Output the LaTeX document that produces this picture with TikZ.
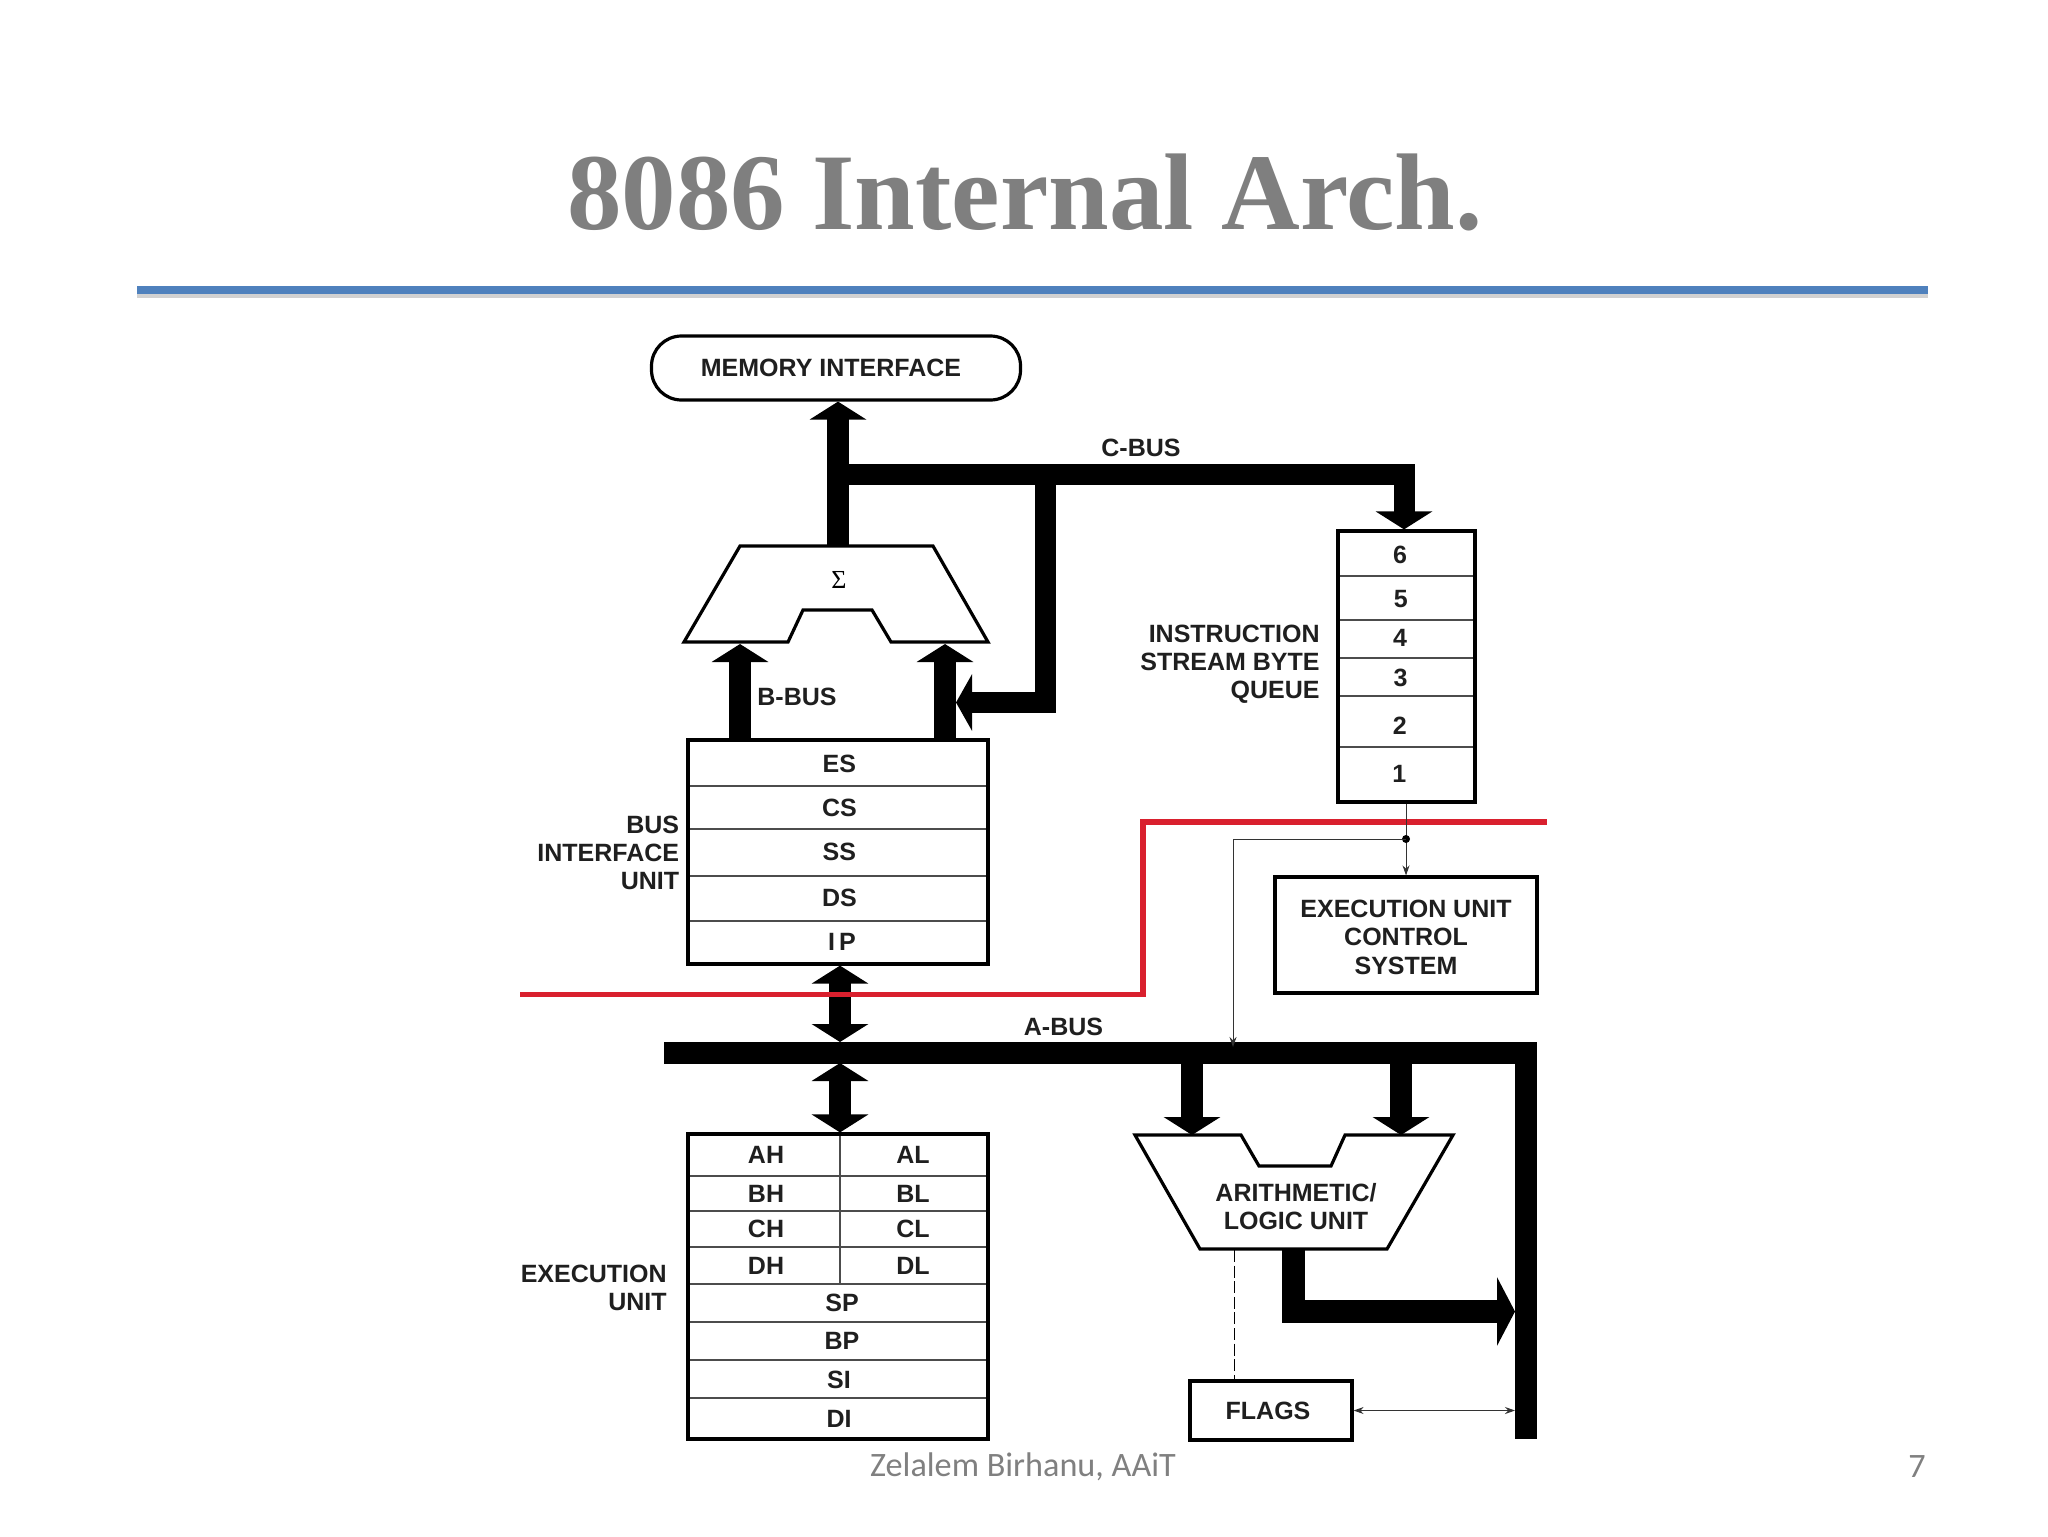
\documentclass[tikz,border=0pt]{standalone}
\usepackage{fontspec}
\setmainfont{Liberation Sans}
\newfontfamily\titlefont{Liberation Serif}
\newfontfamily\footfont{Carlito}
\usetikzlibrary{arrows.meta,calc}
\definecolor{titlegray}{HTML}{7F7F7F}
\definecolor{footgray}{HTML}{808080}
\definecolor{rulecolor}{HTML}{4F81BD}
\definecolor{redline}{HTML}{D9202E}
\tikzset{
  lab/.style={font=\fontsize{12.5}{14}\selectfont\bfseries, inner sep=0pt, text=black!88},
  rlab/.style={lab, align=right, anchor=east},
  clab/.style={lab, align=center},
  outerbox/.style={draw=black, line width=1.6pt, inner sep=0pt},
  rowline/.style={draw=black!70, line width=0.7pt},
  bus/.style={line width=#1, draw=black, line join=miter, line cap=butt},
  bus/.default=11pt,
  head/.style={-{Triangle[width=28pt,length=9pt]}},
  dhead/.style={{Triangle[width=28pt,length=9pt]}-{Triangle[width=28pt,length=9pt]}},
  thin wire/.style={draw=black!80, line width=0.5pt},
  small tip/.style={-{Stealth[length=5pt,width=3.5pt]}},
  double small/.style={{Stealth[length=5pt,width=3.5pt]}-{Stealth[length=5pt,width=3.5pt]}},
  trap/.style={draw=black, line width=1.6pt, fill=white, line join=miter},
  red wire/.style={draw=redline, line width=2.6pt, line join=miter},
}
\newcommand{\regrow}[7][]{\draw[rowline] (#3,#4) rectangle (#5,#6) node[midway,lab,#1] (#2) {#7};}
\begin{document}
\begin{tikzpicture}[x=0.5pt,y=-0.5pt]
\useasboundingbox (0,0) rectangle (2048,1536);
\fill[white] (0,0) rectangle (2048,1536);
% title
\node[font=\titlefont\fontsize{54.5}{60}\selectfont\bfseries, text=titlegray, inner sep=0pt, anchor=base] (title) at (1025,229) {8086 Internal Arch.};
\draw[black!18, line width=2pt] (137,296) -- (1928,296);
\draw[rulecolor, line width=4pt] (137,290) -- (1928,290);
\node[font=\footfont\fontsize{17.1}{19}\selectfont, text=footgray, inner sep=0pt] (foot) at (1023,1467) {Zelalem Birhanu, AAiT};
\node[font=\footfont\fontsize{17.1}{19}\selectfont, text=footgray, inner sep=0pt] (page) at (1917,1467) {7};

% memory interface
\node[outerbox, rounded corners=15pt, minimum width=184.5pt, minimum height=32pt, lab] (mem) at (836,368) {MEMORY INTERFACE\hspace*{5pt}};

% adder
\coordinate (sumtop) at (838,546);
\coordinate (sumL) at (740,644);
\coordinate (sumR) at (945,644);
\draw[trap] (740,546) -- (933,546) -- (988,642) -- (891,642) -- (872,610) -- (803,610) -- (788,642) -- (684,642) -- cycle;
\node[font=\titlefont\fontsize{13}{14}\selectfont, inner sep=0pt] (sigma) at (839,580) {Σ};

% BIU registers
\regrow[xshift=0.7pt,yshift=-0.5pt]{es}{688}{740}{988}{786}{ES}
\regrow[xshift=0.7pt]{cs}{688}{786}{988}{829}{CS}
\regrow[xshift=0.7pt,yshift=0.5pt]{ss}{688}{829}{988}{876}{SS}
\regrow[xshift=0.7pt,yshift=0.5pt]{ds}{688}{876}{988}{921}{DS}
\regrow[xshift=2pt,yshift=0.5pt]{ip}{688}{921}{988}{964}{I\,P}
\node[outerbox, minimum width=150pt, minimum height=112pt] (biu) at (838,852) {};

% queue
\regrow[xshift=-3.2pt,yshift=-0.5pt]{q6}{1338}{531}{1475}{576}{6}
\regrow[xshift=-2.8pt,yshift=-0.5pt]{q5}{1338}{576}{1475}{620}{5}
\regrow[xshift=-3.2pt,yshift=0.5pt]{q4}{1338}{620}{1475}{658}{4}
\regrow[xshift=-3pt,yshift=-0.5pt]{q3}{1338}{658}{1475}{696}{3}
\regrow[xshift=-3.4pt,yshift=-2pt]{q2}{1338}{696}{1475}{747}{2}
\regrow[xshift=-3.6pt,yshift=0.5pt]{q1}{1338}{747}{1475}{802}{1}
\node[outerbox, minimum width=68.5pt, minimum height=135.5pt] (queue) at (1406.5,666.5) {};

% buses
\coordinate (cjoin) at (838,474);
\coordinate (ccorner) at (1404,474);
\coordinate (cdrop) at (1045,474);
\coordinate (bturn) at (1045,702.5);
\coordinate (binput) at (956,702.5);
\draw[bus,head] (sumtop) -- (mem.south -| sumtop);
\draw[bus=10.5pt,head] (cjoin) -- (ccorner) -- (ccorner |- queue.north);
\draw[bus=10.5pt,-{Triangle[width=28pt,length=8pt]}] (cdrop) -- (bturn) -- (binput);
\draw[bus,head] (biu.north -| sumL) -- (sumL);
\draw[bus,head] (biu.north -| sumR) -- (sumR);

% A bus
\coordinate (abusL) at (664,1052.5);
\coordinate (abusR) at (1526,1052.5);
\coordinate (abusEnd) at (1526,1439);
\coordinate (aupper) at (840,1042);
\coordinate (alower) at (840,1063);
\draw[bus=11pt] (abusL) -- (abusR) -- (abusEnd);
\draw[bus,dhead] (biu.south -| aupper) -- (aupper);

% red divider
\draw[red wire] (520,994.5) -- (1143,994.5) -- (1143,822) -- (1547,822);

% lower registers
\regrow[xshift=1pt]{rah}{688}{1134}{840}{1176}{AH}
\regrow[xshift=-0.5pt]{ral}{840}{1134}{988}{1176}{AL}
\regrow[xshift=1pt]{rbh}{688}{1176}{840}{1211}{BH}
\regrow[xshift=-0.5pt]{rbl}{840}{1176}{988}{1211}{BL}
\regrow[xshift=1pt]{rch}{688}{1211}{840}{1247}{CH}
\regrow[xshift=-0.5pt]{rcl}{840}{1211}{988}{1247}{CL}
\regrow[xshift=1pt]{rdh}{688}{1247}{840}{1284}{DH}
\regrow[xshift=-0.5pt]{rdl}{840}{1247}{988}{1284}{DL}
\regrow[xshift=2pt]{rsp}{688}{1284}{988}{1322}{SP}
\regrow[xshift=2pt]{rbp}{688}{1322}{988}{1360}{BP}
\regrow[xshift=0.5pt,yshift=-0.5pt]{rsi}{688}{1360}{988}{1398}{SI}
\regrow[xshift=0.5pt]{rdi}{688}{1398}{988}{1439}{DI}
\node[outerbox, minimum width=150pt, minimum height=152.5pt] (eu) at (838,1286.5) {};
\draw[bus,dhead] (alower) -- (eu.north -| alower);

% EU control
\node[outerbox, minimum width=131pt, minimum height=58pt] (euc) at (1406,935) {};
\node[clab] (euclab) at (1406,937) {EXECUTION UNIT\\[0.2pt]CONTROL\\[0.2pt]SYSTEM};

% thin control wires
\coordinate (qdot) at (1406,839);
\draw[thin wire,small tip] (queue.south -| qdot) -- (euc.north);
\fill[black] (qdot) circle (4);
\draw[thin wire,small tip] (qdot) -- (1233,839) -- (1233,1047);

% ALU
\draw[trap] (1135,1135) -- (1241,1135) -- (1259,1166) -- (1331,1166) -- (1345,1135) -- (1453,1135) -- (1387,1249) -- (1200,1249) -- cycle;
\node[clab] (alu) at (1296,1207) {ARITHMETIC/\\LOGIC UNIT};
\coordinate (aluA) at (1192,1135);
\coordinate (aluB) at (1401,1135);
\draw[bus,head] (aluA |- abusL) -- (aluA);
\draw[bus,head] (aluB |- abusL) -- (aluB);
\coordinate (aluout) at (1293,1250);
\coordinate (aluturn) at (1293,1311.5);
\coordinate (aluend) at (1515,1311.5);
\draw[bus=11.5pt,-{Triangle[width=34pt,length=9pt]}] (aluout) -- (aluturn) -- (aluend);

% flags
\node[outerbox, minimum width=81pt, minimum height=29.5pt, lab] (flags) at (1271,1410.5) {FLAGS\hspace*{3pt}};
\draw[draw=black,line width=0.5pt,dash pattern=on 6pt off 1.8pt] (1234,1250) -- (flags.north -| 1234,0);
\draw[thin wire,double small] (flags.east) -- (1515,1410.5);

% labels
\node[lab] (cbus) at (1141,448) {C-BUS};
\node[lab] (bbus) at (797,697) {B-BUS};
\node[lab] (abus) at (1063.5,1027) {A-BUS};
\node[rlab] (biulab) at (679.5,853) {BUS\\INTERFACE\\UNIT};
\node[rlab] (qlab) at (1320,664) {INSTRUCTION\\STREAM BYTE\\QUEUE};
\node[rlab] (eulab) at (667,1288) {EXECUTION\\UNIT};
\end{tikzpicture}
\end{document}
